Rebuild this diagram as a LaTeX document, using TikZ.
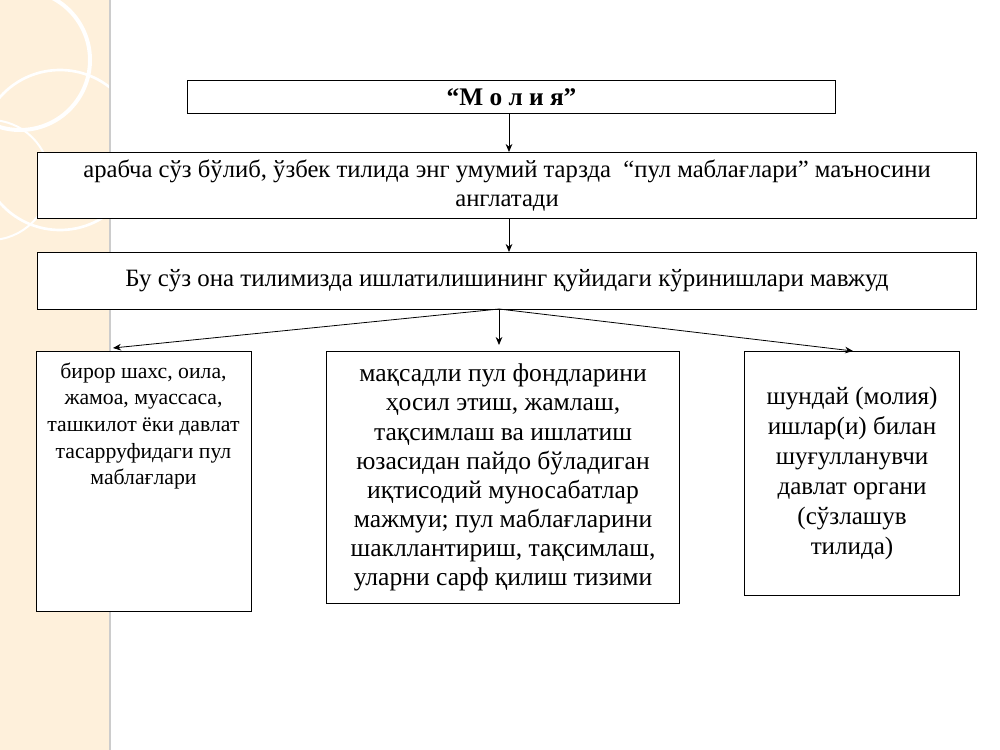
\documentclass[tikz,border=0pt]{standalone}
\usepackage{fontspec}
\setmainfont{Liberation Serif}
\usetikzlibrary{arrows.meta}
\begin{document}
\begin{tikzpicture}[x=0.75pt,y=-0.75pt,
  box/.style={draw,line width=0.8pt,fill=white},
  arr/.style={-{Stealth[length=6pt,width=5pt]},line width=0.6pt}]
\useasboundingbox (0,0) rectangle (1000,750);
\fill[white] (0,0) rectangle (1000,750);
\fill[yellow!10!orange!12!white] (0,0) rectangle (110,750);
\begin{scope}
\clip (0,0) rectangle (110,750);
\draw[white,line width=3pt] (20,60) circle (70);
\draw[white,line width=2pt] (60,150) circle (80);
\draw[white,line width=1.5pt] (-10,180) circle (60);
\end{scope}
\draw[gray!40,line width=1pt] (110,0) -- (110,750);
\node[box,minimum width=648*0.75pt,minimum height=33*0.75pt,anchor=north west,
  font=\bfseries\fontsize{19}{20}\selectfont] (t) at (187,80) {“М о л и я”};
\node[box,minimum width=939*0.75pt,minimum height=66*0.75pt,anchor=north west,align=center,
  font=\fontsize{18.5}{22}\selectfont] (b2) at (37,152)
  {арабча сўз бўлиб, ўзбек тилида энг умумий тарзда \ “пул маблағлари” маъносини\\ англатади};
\node[box,minimum width=939*0.75pt,minimum height=57*0.75pt,anchor=north west,
  font=\fontsize{18.7}{20}\selectfont] (b3) at (37,252)
  {Бу сўз она тилимизда ишлатилишининг қуйидаги кўринишлари мавжуд};
\node[box,minimum width=215*0.75pt,minimum height=260*0.75pt,anchor=north west] (b4) at (36,351) {};
\node[anchor=north,align=center,font=\fontsize{16.3}{20}\selectfont] (b4t) at (143.5,358)
  {бирор шахс, оила,\\ жамоа, муассаса,\\ ташкилот ёки давлат\\ тасарруфидаги пул\\ маблағлари};
\node[box,minimum width=353*0.75pt,minimum height=252*0.75pt,anchor=north west,align=center,
  font=\fontsize{19.2}{21.8}\selectfont] (b5) at (326,351)
  {мақсадли пул фондларини\\ ҳосил этиш, жамлаш,\\ тақсимлаш ва ишлатиш\\ юзасидан пайдо бўладиган\\ иқтисодий муносабатлар\\ мажмуи; пул маблағларини\\ шакллантириш, тақсимлаш,\\ уларни сарф қилиш тизими};
\node[box,minimum width=215*0.75pt,minimum height=244*0.75pt,anchor=north west,align=center,
  font=\fontsize{18.8}{22.5}\selectfont] (b6) at (744,351)
  {шундай (молия)\\ ишлар(и) билан\\ шуғулланувчи\\ давлат органи\\ (сўзлашув\\ тилида)};
\coordinate (s) at (499,309);
\draw[arr] (509,113) -- (509,152);
\draw[arr] (509,218) -- (509,252);
\draw[arr] (s) -- (113,348);
\draw[arr] (s) -- (499,345);
\draw[arr] (s) -- (853,351);
\end{tikzpicture}
\end{document}
